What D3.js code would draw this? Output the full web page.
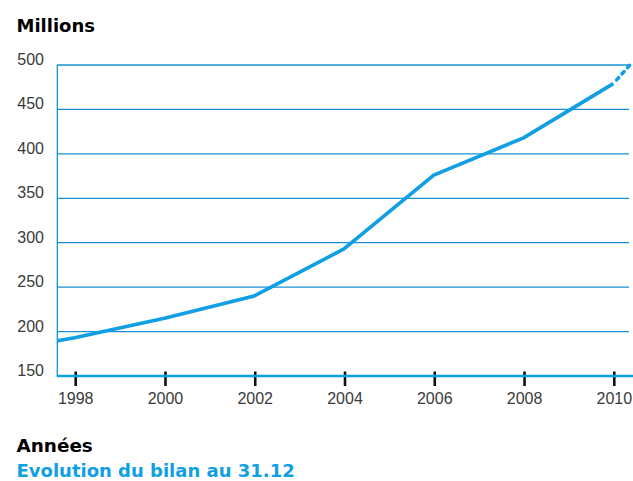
<!DOCTYPE html>
<html>
<head>
<meta charset="utf-8">
<script src="https://cdn.jsdelivr.net/npm/d3@7"></script>
<style>
  html, body { margin: 0; padding: 0; background: #fff; }
  svg { display: block; }
</style>
</head>
<body>
<div id="chart"></div>
<script>
// values (millions)
var years = [1997, 1998, 2000, 2002, 2004, 2006, 2008, 2010];
var values = [184, 193, 215, 240, 293, 376, 418, 479];
// projected part, drawn dashed
var projYears = [2010, 2010.37];
var projValues = [479, 500];

var yTicks = [150, 200, 250, 300, 350, 400, 450, 500];
var xTicks = [1998, 2000, 2002, 2004, 2006, 2008, 2010];

var yTitle = "Millions";
var xTitle = "Années";
var caption = "Evolution du bilan au 31.12";

var width = 633, height = 481;
var blue = "#0f9fe2";
var gridBlue = "#1790d4";
var font = "'Liberation Sans', Arial, Helvetica, sans-serif";
var boldFont = "'DejaVu Sans', 'Liberation Sans', sans-serif";

var svg = d3.select("#chart")
  .append("svg")
  .attr("width", width)
  .attr("height", height);

var x = d3.scaleLinear().domain([1998, 2010]).range([74.7, 613.3]);
var y = d3.scaleLinear().domain([150, 500]).range([376, 65]);

var left = 57.3, right = 629;

svg.append("defs").append("clipPath")
  .attr("id", "plot")
  .append("rect")
  .attr("x", left)
  .attr("y", 40)
  .attr("width", width - left)
  .attr("height", 340);

// grid lines
svg.append("g")
  .selectAll("line")
  .data(yTicks.slice(1))
  .enter()
  .append("line")
  .attr("x1", left)
  .attr("x2", right)
  .attr("y1", function (d) { return y(d); })
  .attr("y2", function (d) { return y(d); })
  .attr("stroke", gridBlue)
  .attr("stroke-width", 1.3);

// y axis line
svg.append("line")
  .attr("x1", left).attr("x2", left)
  .attr("y1", y(500)).attr("y2", y(150))
  .attr("stroke", gridBlue)
  .attr("stroke-width", 1.3);

// y labels
svg.append("g")
  .selectAll("text")
  .data(yTicks)
  .enter()
  .append("text")
  .attr("x", 44)
  .attr("y", function (d) { return y(d); })
  .attr("text-anchor", "end")
  .attr("font-family", font)
  .attr("font-size", "16px")
  .attr("fill", "#3a3a3a")
  .text(function (d) { return d; });

// x ticks
svg.append("g")
  .selectAll("line")
  .data(xTicks)
  .enter()
  .append("line")
  .attr("x1", function (d) { return x(d) + 1; })
  .attr("x2", function (d) { return x(d) + 1; })
  .attr("y1", 371.5)
  .attr("y2", 386)
  .attr("stroke", "#111")
  .attr("stroke-width", 2.6);

// baseline
svg.append("line")
  .attr("x1", left - 0.6).attr("x2", width)
  .attr("y1", y(150)).attr("y2", y(150))
  .attr("stroke", blue)
  .attr("stroke-width", 2.6);

// x labels
svg.append("g")
  .selectAll("text")
  .data(xTicks)
  .enter()
  .append("text")
  .attr("x", function (d) { return x(d) + 1; })
  .attr("y", 403.5)
  .attr("text-anchor", "middle")
  .attr("font-family", font)
  .attr("font-size", "16px")
  .attr("fill", "#3a3a3a")
  .text(function (d) { return d; });

var line = d3.line()
  .x(function (d) { return x(d[0]); })
  .y(function (d) { return y(d[1]); });

svg.append("path")
  .datum(d3.zip(years, values))
  .attr("clip-path", "url(#plot)")
  .attr("fill", "none")
  .attr("stroke", blue)
  .attr("stroke-width", 3.6)
  .attr("stroke-linejoin", "round")
  .attr("d", line);

svg.append("path")
  .datum(d3.zip(projYears, projValues))
  .attr("fill", "none")
  .attr("stroke", blue)
  .attr("stroke-width", 3.6)
  .attr("stroke-linecap", "round")
  .attr("stroke-dasharray", "3,5.2")
  .attr("stroke-dashoffset", -5)
  .attr("d", line);

// titles
svg.append("text")
  .attr("x", 16.5)
  .attr("y", 32.3)
  .attr("font-family", boldFont)
  .attr("font-weight", "bold")
  .attr("font-size", "18px")
  .attr("fill", "#000")
  .text(yTitle);

svg.append("text")
  .attr("x", 16.5)
  .attr("y", 451.7)
  .attr("font-family", boldFont)
  .attr("font-weight", "bold")
  .attr("font-size", "18.4px")
  .attr("fill", "#000")
  .text(xTitle);

svg.append("text")
  .attr("x", 16.5)
  .attr("y", 477)
  .attr("font-family", boldFont)
  .attr("font-weight", "bold")
  .attr("font-size", "18px")
  .attr("fill", blue)
  .text(caption);
</script>
</body>
</html>
